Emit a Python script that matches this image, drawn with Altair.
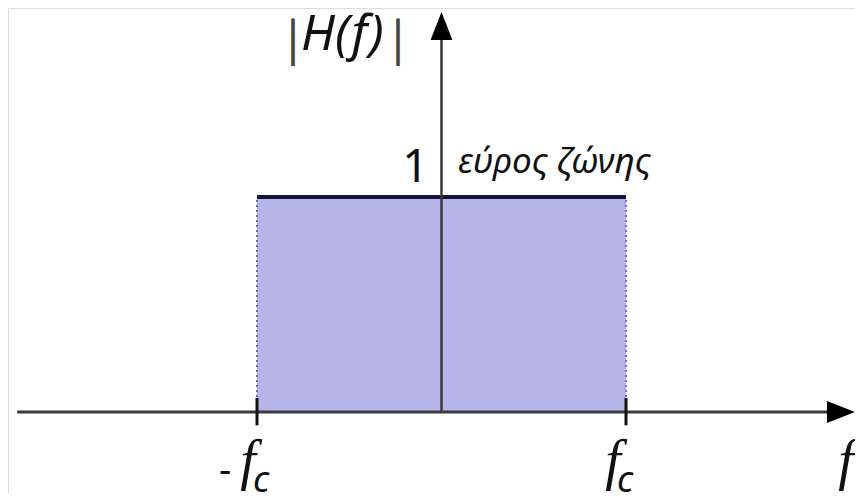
import altair as alt
import pandas as pd

# ---- values (frequency in units of the cut-off f_c, gain in units of 1) ----
band_edges = [-1.0, 1.0]          # -f_c , f_c
band_gain = 1.0                   # |H(f)| inside the band
x_axis_span = [-2.30, 2.17]       # drawn frequency axis
y_axis_span = [0.0, 1.79]         # drawn magnitude axis
tick_span = [-0.062, 0.065]       # little tick marks at ±f_c

# annotation texts (kept as real text)
title_parts = ["|", "H(f)", "|"]
one_label = "1"
band_label = "εύρος ζώνης"
minus_sign = "-"
f_symbol = "f"
c_sub = "c"

xs = alt.Scale(domain=[-2.3496, 2.2412], nice=False, zero=False)
ys = alt.Scale(domain=[-0.3814, 1.8791], nice=False, zero=False)

def X(field="x"):
    return alt.X(f"{field}:Q", scale=xs, axis=None)

def Y(field="y"):
    return alt.Y(f"{field}:Q", scale=ys, axis=None)

# filled pass band
band_df = pd.DataFrame({"x": [band_edges[0]], "x2": [band_edges[1]],
                        "y": [0.0], "y2": [band_gain]})
band = alt.Chart(band_df).mark_rect(color="#b5b5ea").encode(
    x=X(), x2="x2:Q", y=Y(), y2="y2:Q")

# dotted side edges
edge_df = pd.DataFrame({"x": band_edges, "y": [0.0, 0.0], "y2": [band_gain, band_gain]})
edges = alt.Chart(edge_df).mark_rule(color="#6a6ac8", strokeWidth=2,
                                     strokeDash=[2, 3]).encode(
    x=X(), y=Y(), y2="y2:Q")

# thick top line
top_df = pd.DataFrame({"x": [band_edges[0]], "x2": [band_edges[1]], "y": [band_gain]})
top = alt.Chart(top_df).mark_rule(color="#12123a", strokeWidth=4).encode(
    x=X(), x2="x2:Q", y=Y())

# axes lines
xaxis_df = pd.DataFrame({"x": [x_axis_span[0]], "x2": [x_axis_span[1]], "y": [0.0]})
xaxis = alt.Chart(xaxis_df).mark_rule(color="#3a3a3a", strokeWidth=3).encode(
    x=X(), x2="x2:Q", y=Y())
yaxis_df = pd.DataFrame({"x": [0.0], "y": [y_axis_span[0]], "y2": [y_axis_span[1]]})
yaxis = alt.Chart(yaxis_df).mark_rule(color="#3a3a3a", strokeWidth=2.5).encode(
    x=X(), y=Y(), y2="y2:Q")

# ticks at ±f_c
tick_df = pd.DataFrame({"x": band_edges, "y": [tick_span[0]] * 2, "y2": [tick_span[1]] * 2})
ticks = alt.Chart(tick_df).mark_rule(color="#111111", strokeWidth=3).encode(
    x=X(), y=Y(), y2="y2:Q")

# arrow heads
arrow_r = alt.Chart(pd.DataFrame({"x": [2.165], "y": [0.0]})).mark_point(
    shape="M-1,-0.78L1,0L-1,0.78Z", size=784, filled=True, opacity=1,
    color="#000000", strokeWidth=0).encode(x=X(), y=Y())
arrow_u = alt.Chart(pd.DataFrame({"x": [0.0], "y": [1.795]})).mark_point(
    shape="M-0.78,1L0,-1L0.78,1Z", size=784, filled=True, opacity=1,
    color="#000000", strokeWidth=0).encode(x=X(), y=Y())

def texts(df, font, style, align="center", color="#111111"):
    return alt.Chart(df).mark_text(font=font, fontStyle=style, align=align,
                                   baseline="alphabetic", color=color).encode(
        x=X(), y=Y(), text="t:N", size=alt.Size("s:Q", scale=None))

bars = texts(pd.DataFrame({"t": [title_parts[0], title_parts[2]],
                           "x": [-0.805, -0.236], "y": [1.66, 1.66], "s": [48, 48]}),
             "Noto Sans", "normal", color="#444444")
hf = texts(pd.DataFrame({"t": [title_parts[1]], "x": [-0.762], "y": [1.685], "s": [50]}),
           "Noto Sans", "italic", align="left")
one = texts(pd.DataFrame({"t": [one_label], "x": [-0.070], "y": [1.070], "s": [46]}),
            "Noto Sans", "normal", align="right")
bw = texts(pd.DataFrame({"t": [band_label], "x": [0.089], "y": [1.110], "s": [35]}),
           "Noto Sans", "italic", align="left")
minus = texts(pd.DataFrame({"t": [minus_sign], "x": [-1.173], "y": [-0.33], "s": [38]}),
              "Noto Sans", "normal")
fs = texts(pd.DataFrame({"t": [f_symbol] * 3, "x": [-1.049, 0.930, 2.193],
                         "y": [-0.31, -0.31, -0.31], "s": [56, 56, 56]}),
           "Liberation Serif", "italic")
cs = texts(pd.DataFrame({"t": [c_sub] * 2, "x": [-0.978, 0.995],
                         "y": [-0.370, -0.370], "s": [36, 36]}),
           "Noto Sans", "italic")

chart = alt.layer(band, edges, top, xaxis, yaxis, ticks, arrow_r, arrow_u,
                  bars, hf, one, bw, minus, fs, cs).properties(
    width=847, height=486,
    autosize=alt.AutoSizeParams(type="none"),
    padding=0,
).configure_view(stroke=None).configure(background="white")

chart.save("out.html", embed_options={"renderer": "svg", "actions": False})
